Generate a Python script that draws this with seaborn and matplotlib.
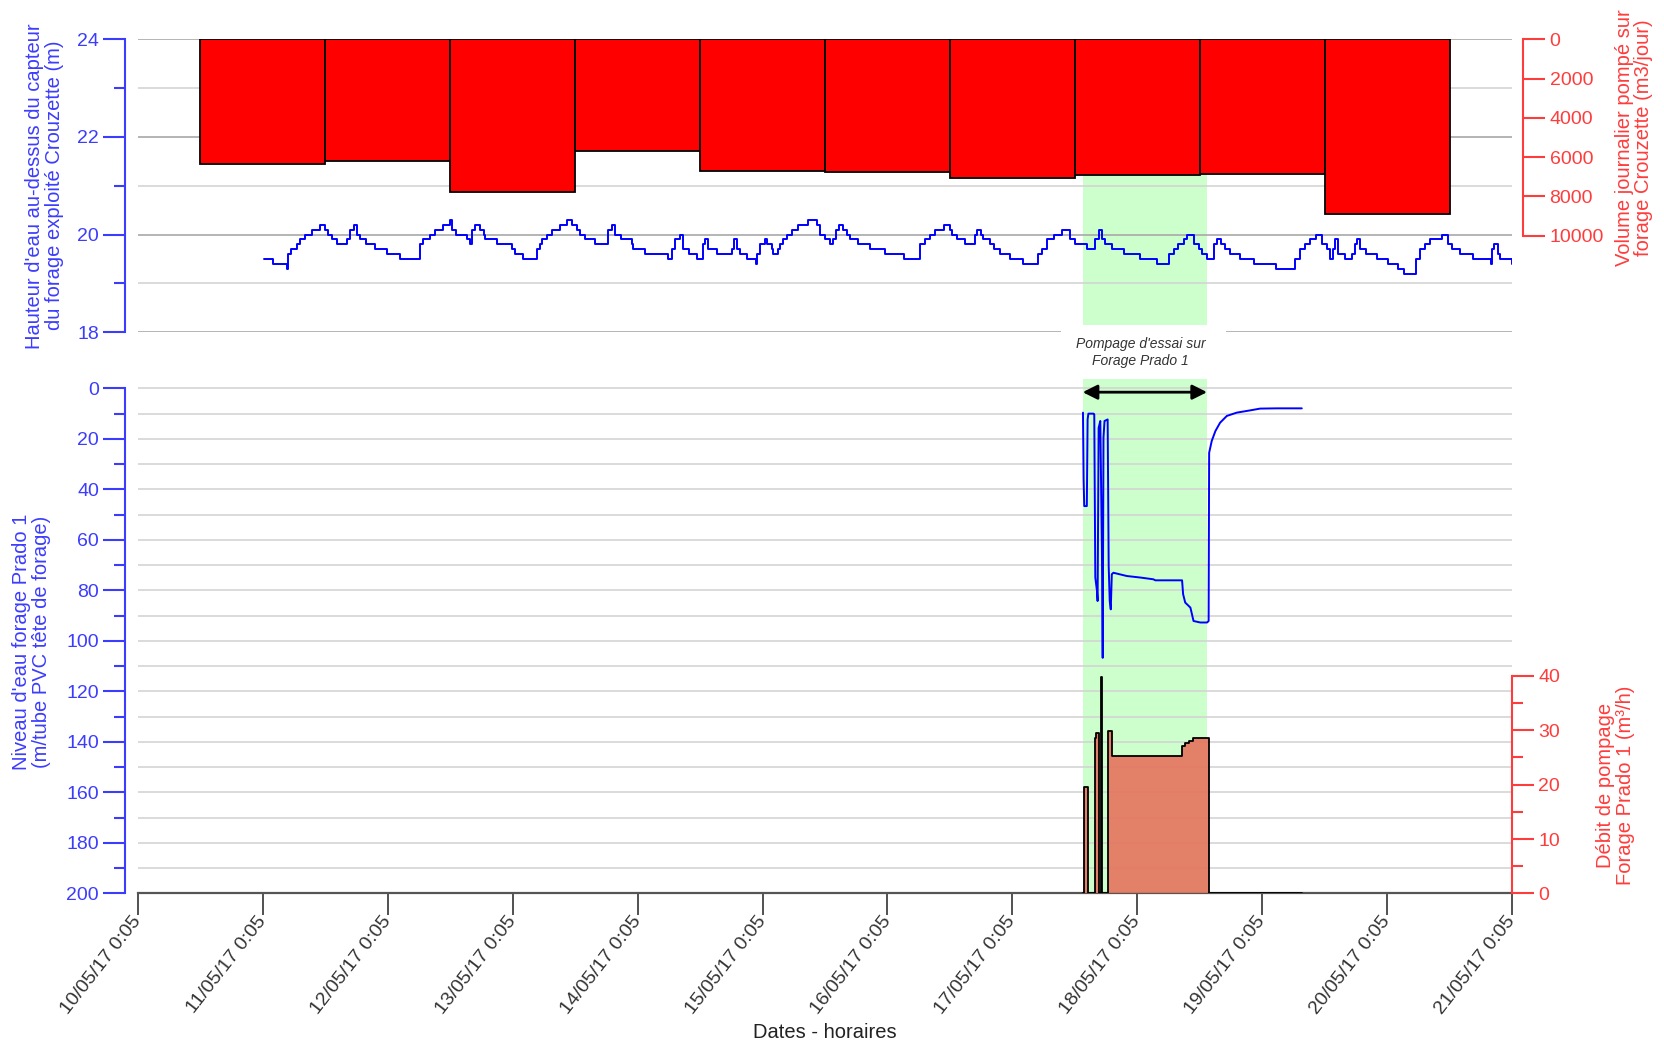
import matplotlib
matplotlib.use("Agg")
import matplotlib.pyplot as plt
from matplotlib.patches import Rectangle
from matplotlib.ticker import FixedLocator, MultipleLocator
import pandas as pd
import seaborn as sns

sns.set_theme(style="white")
plt.rcParams["font.family"] = ["Liberation Sans", "DejaVu Sans"]

BLUE = "#0000ff"
BLUE_TXT = "#3c3cff"
RED_TXT = "#ff3c3c"
GREEN = "#ccffcc"
TICK_FS = 14

# x axis: hours since 10/05/17 0:05
date_labels = ["10/05/17 0:05", "11/05/17 0:05", "12/05/17 0:05", "13/05/17 0:05",
               "14/05/17 0:05", "15/05/17 0:05", "16/05/17 0:05", "17/05/17 0:05",
               "18/05/17 0:05", "19/05/17 0:05", "20/05/17 0:05", "21/05/17 0:05"]
test_start_h, test_end_h = 181.5, 205.4

# daily pumped volume at Crouzette (m3/day), one bar per day starting at 12:05
vol_start_h = [12, 36, 60, 84, 108, 132, 156, 180, 204, 228]
vol_m3 = [6370, 6220, 7780, 5680, 6700, 6760, 7050, 6920, 6870, 8900]

# water height above the Crouzette sensor (hour, m), step series
crz_steps = [
    (24.2, 19.5), (25.9, 19.4), (28.7, 19.3), (28.8, 19.6), (29.5, 19.7), (30.5, 19.8),
    (31.1, 19.9), (32.1, 20.0), (33.4, 20.1), (35.0, 20.2), (35.9, 20.1), (36.6, 20.0),
    (37.2, 19.9), (38.2, 19.8), (40.1, 19.9), (40.7, 20.1), (41.6, 20.2), (42.0, 20.0),
    (42.7, 19.9), (43.9, 19.8), (45.5, 19.7), (47.8, 19.6), (50.3, 19.5), (54.2, 19.8),
    (54.8, 19.9), (56.1, 20.0), (57.1, 20.1), (58.7, 20.2), (60.0, 20.3), (60.3, 20.1),
    (61.2, 20.0), (63.2, 19.9), (63.8, 19.8), (64.1, 20.1), (64.8, 20.2), (65.7, 20.1),
    (66.4, 20.0), (66.7, 19.9), (69.0, 19.8), (71.8, 19.7), (72.4, 19.6), (74.0, 19.5),
    (76.6, 19.7), (77.2, 19.8), (77.6, 19.9), (78.5, 20.0), (79.5, 20.1), (81.1, 20.2),
    (82.4, 20.3), (83.3, 20.2), (84.3, 20.1), (84.9, 20.0), (85.9, 19.9), (87.8, 19.8),
    (90.4, 20.1), (91.0, 20.2), (91.7, 20.0), (92.9, 19.9), (94.9, 19.8), (95.2, 19.7),
    (97.5, 19.6), (101.9, 19.5), (102.6, 19.7), (103.2, 19.9), (104.2, 20.0), (104.7, 19.7),
    (105.8, 19.6), (107.4, 19.5), (108.6, 19.8), (109.0, 19.9), (109.6, 19.7), (111.2, 19.6),
    (114.1, 19.7), (114.5, 19.9), (115.1, 19.7), (115.7, 19.6), (117.0, 19.5), (118.8, 19.4),
    (118.9, 19.6), (119.5, 19.8), (120.5, 19.9), (120.8, 19.8), (121.8, 19.7), (122.1, 19.6),
    (123.0, 19.7), (123.4, 19.8), (124.0, 19.9), (124.7, 20.0), (125.6, 20.1), (126.9, 20.2),
    (128.8, 20.3), (130.4, 20.2), (131.1, 20.0), (132.0, 19.9), (133.0, 19.8), (133.5, 19.9),
    (134.1, 20.1), (134.6, 20.2), (135.5, 20.1), (136.2, 20.0), (136.8, 19.9), (138.4, 19.8),
    (140.7, 19.7), (143.6, 19.6), (147.1, 19.5), (150.3, 19.8), (151.2, 19.9), (152.2, 20.0),
    (153.2, 20.1), (154.8, 20.2), (156.0, 20.1), (156.4, 20.0), (157.3, 19.9), (158.9, 19.8),
    (160.8, 20.0), (161.2, 20.1), (162.0, 20.0), (162.4, 19.9), (163.7, 19.8), (164.4, 19.7),
    (165.7, 19.6), (167.6, 19.5), (170.1, 19.4), (173.0, 19.6), (173.7, 19.7), (174.6, 19.9),
    (175.9, 20.0), (177.5, 20.1), (179.1, 19.9), (180.1, 19.8), (182.3, 19.7), (183.9, 19.9),
    (184.6, 20.1), (185.2, 19.9), (185.8, 19.8), (187.1, 19.7), (189.4, 19.6), (192.6, 19.5),
    (195.8, 19.4), (198.0, 19.6), (199.0, 19.7), (199.9, 19.8), (200.9, 19.9), (201.5, 20.0),
    (202.8, 19.8), (203.8, 19.7), (204.4, 19.6), (205.4, 19.5), (206.7, 19.8), (207.3, 19.9),
    (208.0, 19.8), (208.8, 19.7), (209.8, 19.6), (211.7, 19.5), (214.5, 19.4), (218.6, 19.3),
    (222.2, 19.5), (223.2, 19.7), (224.2, 19.8), (225.2, 19.9), (226.4, 20.0), (227.4, 19.8),
    (228.4, 19.7), (229.0, 19.5), (229.5, 19.7), (230.0, 19.9), (230.6, 19.6), (231.9, 19.5),
    (233.2, 19.6), (233.8, 19.8), (234.2, 19.9), (234.8, 19.7), (236.0, 19.6), (238.0, 19.5),
    (240.2, 19.4), (242.0, 19.3), (243.2, 19.2), (245.6, 19.5), (246.3, 19.7), (247.2, 19.8),
    (248.2, 19.9), (250.5, 20.0), (251.7, 19.8), (252.4, 19.7), (254.0, 19.6), (256.5, 19.5),
    (259.9, 19.4), (260.1, 19.7), (260.6, 19.8), (261.2, 19.6), (261.6, 19.5), (263.9, 19.4),
    (264.0, 19.4),
]

# water level in Prado 1 (hour, m below PVC casing head)
prado_steps = [
    (181.56, 9.6), (181.68, 36.0), (181.8, 46.6), (182.3, 46.6), (182.45, 12.3), (182.6, 10.0),
    (183.6, 10.0), (183.73, 10.3), (183.93, 74.9), (184.25, 80.2), (184.37, 84.2), (184.57, 15.6),
    (184.89, 12.9), (185.2, 64.4), (185.35, 106.7), (185.5, 19.5), (185.7, 12.9), (186.3, 12.3),
    (186.5, 70.3), (186.7, 84.2), (186.9, 87.5), (187.1, 73.6), (187.4, 73.0), (190.0, 74.3),
    (192.6, 74.9), (195.1, 75.6), (195.45, 76.0), (200.6, 76.0), (200.8, 81.5), (201.2, 84.8),
    (202.2, 86.8), (202.8, 92.1), (204.1, 92.7), (205.4, 92.7), (205.7, 92.1), (205.8, 25.5),
    (206.3, 20.8), (207.0, 16.9), (207.9, 13.6), (209.2, 10.9), (211.1, 9.6), (213.7, 8.7),
    (215.6, 8.0), (218.8, 7.9), (223.6, 7.9),
]

# pumping rate Prado 1 (hour, m3/h), step series
pump_steps = [
    (181.5, 0), (181.7, 19.5), (182.6, 0), (183.8, 28.5), (184.05, 29.5), (184.57, 0),
    (185.0, 39.7), (185.3, 0), (186.3, 29.9), (187.1, 25.2), (200.6, 27.1), (201.2, 27.6),
    (201.9, 28.0), (202.7, 28.5), (205.8, 0), (223.6, 0),
]

crz = pd.DataFrame(crz_steps, columns=["heure", "hauteur"])
prado = pd.DataFrame(prado_steps, columns=["heure", "niveau"])
pump = pd.DataFrame(pump_steps, columns=["heure", "debit"])

fig = plt.figure(figsize=(16.64, 10.45), dpi=100)
ax1 = fig.add_axes([0.0829, 0.6821, 0.8258, 0.2803])
ax2 = fig.add_axes([0.0829, 0.1450, 0.8258, 0.4930])

# ---- top panel: Crouzette
ax1.set_xlim(0, 264)
ax1.set_ylim(18, 24)
ax1.axvspan(test_start_h, test_end_h, color=GREEN, lw=0, zorder=0)
sns.lineplot(data=crz, x="heure", y="hauteur", ax=ax1, color=BLUE, lw=1.4,
             drawstyle="steps-post", estimator=None, sort=False)
ax1.set_yticks([18, 20, 22, 24])
ax1.yaxis.set_minor_locator(MultipleLocator(1))
ax1.set_axisbelow(True)
ax1.grid(True, which="major", axis="y", color="#a8a8a8", lw=1.2)
ax1.grid(True, which="minor", axis="y", color="#d4d4d4", lw=1.2)
ax1.grid(False, axis="x")
for s in ["top", "right", "bottom"]:
    ax1.spines[s].set_visible(False)
ax1.spines["left"].set_position(("outward", 9))
ax1.spines["left"].set_color(BLUE_TXT)
ax1.spines["left"].set_linewidth(1.5)
ax1.tick_params(axis="y", which="both", left=True, direction="out", colors=BLUE_TXT,
                labelsize=TICK_FS, width=1.5, pad=3)
ax1.tick_params(axis="y", which="major", length=16)
ax1.tick_params(axis="y", which="minor", length=8)
ax1.tick_params(axis="x", bottom=False, labelbottom=False)
ax1.set_xlabel("")
ax1.set_ylabel("")

ax1r = ax1.twinx()
ax1r.set_ylim(14920, 0)
ax1r.bar(vol_start_h, vol_m3, width=24, align="edge", color="#ff0000",
         edgecolor="black", lw=1.3)
ax1r.set_yticks(range(0, 10001, 2000))
ax1r.grid(False)
for s in ["top", "left", "bottom"]:
    ax1r.spines[s].set_visible(False)
ax1r.spines["right"].set_position(("outward", 8))
ax1r.spines["right"].set_bounds(0, 10000)
ax1r.spines["right"].set_color(RED_TXT)
ax1r.spines["right"].set_linewidth(1.5)
ax1r.tick_params(axis="y", right=True, direction="out", length=16, width=1.5,
                 colors=RED_TXT, labelsize=TICK_FS, pad=3)

# ---- bottom panel: Prado 1
ax2.set_xlim(0, 264)
ax2.set_ylim(200, -4)
ax2.axvspan(test_start_h, test_end_h, color=GREEN, lw=0, zorder=0)
sns.lineplot(data=prado, x="heure", y="niveau", ax=ax2, color=BLUE, lw=1.4,
             estimator=None, sort=False)
ax2.annotate("", xy=(test_end_h, 1.5), xytext=(test_start_h, 1.5),
             arrowprops=dict(arrowstyle="<|-|>", color="black", lw=2,
                             mutation_scale=22, shrinkA=0, shrinkB=0))
ax2.set_yticks(range(0, 201, 20))
ax2.yaxis.set_minor_locator(MultipleLocator(10))
ax2.set_axisbelow(True)
ax2.grid(True, which="both", axis="y", color="#d4d4d4", lw=1.2)
ax2.grid(False, axis="x")
for s in ["top", "right"]:
    ax2.spines[s].set_visible(False)
ax2.spines["left"].set_position(("outward", 9))
ax2.spines["left"].set_bounds(0, 200)
ax2.spines["left"].set_color(BLUE_TXT)
ax2.spines["left"].set_linewidth(1.5)
ax2.spines["bottom"].set_color("#555555")
ax2.spines["bottom"].set_linewidth(1.6)
ax2.tick_params(axis="y", which="both", left=True, direction="out", colors=BLUE_TXT,
                labelsize=TICK_FS, width=1.5, pad=3)
ax2.tick_params(axis="y", which="major", length=16)
ax2.tick_params(axis="y", which="minor", length=8)
ax2.set_xticks(range(0, 265, 24))
ax2.set_xticklabels(date_labels, rotation=52, ha="right", va="center",
                    rotation_mode="anchor")
ax2.tick_params(axis="x", bottom=True, direction="out", length=16, width=1.2,
                colors="#333333", labelsize=TICK_FS, pad=2)
ax2.set_xlabel("")
ax2.set_ylabel("")

ax2r = ax2.twinx()
ax2r.set_ylim(0, 94.6)
ax2r.fill_between(pump["heure"], pump["debit"], step="post", color="#e5735c",
                  alpha=0.9, lw=0)
sns.lineplot(data=pump, x="heure", y="debit", ax=ax2r, color="black", lw=1.3,
             drawstyle="steps-post", estimator=None, sort=False)
ax2r.set_yticks(range(0, 41, 10))
ax2r.yaxis.set_minor_locator(FixedLocator([5, 15, 25, 35]))
ax2r.grid(False)
for s in ["top", "left", "bottom"]:
    ax2r.spines[s].set_visible(False)
ax2r.spines["right"].set_bounds(0, 40)
ax2r.spines["right"].set_color(RED_TXT)
ax2r.spines["right"].set_linewidth(1.5)
ax2r.tick_params(axis="y", which="both", right=True, direction="out", width=1.5,
                 colors=RED_TXT, labelsize=TICK_FS, pad=3)
ax2r.tick_params(axis="y", which="major", length=16)
ax2r.tick_params(axis="y", which="minor", length=8)
ax2r.set_xlabel("")
ax2r.set_ylabel("")

# ---- annotation box between panels
fig.patches.append(Rectangle((0.6377, 0.6375), 0.099, 0.0518, transform=fig.transFigure,
                             facecolor="white", edgecolor="none", zorder=5))
fig.text(0.6856, 0.6629, "Pompage d'essai sur\nForage Prado 1", ha="center", va="center",
         fontsize=10, style="italic", color="#333333", zorder=6, linespacing=1.25)

# ---- axis titles
fig.text(0.0268, 0.8223, "Hauteur d'eau au-dessus du capteur\ndu forage exploité Crouzette (m)",
         rotation=90, ha="center", va="center", fontsize=14.5, color=BLUE_TXT, linespacing=1.05)
fig.text(0.982, 0.868, "Volume journalier pompé sur\nforage Crouzette (m3/jour)",
         rotation=90, ha="center", va="center", fontsize=14.5, color=RED_TXT, linespacing=1.05)
fig.text(0.0191, 0.3856, "Niveau d'eau forage Prado 1\n(m/tube PVC tête de forage)",
         rotation=90, ha="center", va="center", fontsize=14.5, color=BLUE_TXT, linespacing=1.05)
fig.text(0.971, 0.2487, "Débit de pompage\nForage Prado 1 (m³/h)",
         rotation=90, ha="center", va="center", fontsize=14.5, color=RED_TXT, linespacing=1.05)
fig.text(0.4955, 0.012, "Dates - horaires", ha="center", va="center", fontsize=14.5,
         color="#222222")

fig.savefig("out.png", dpi=100)
